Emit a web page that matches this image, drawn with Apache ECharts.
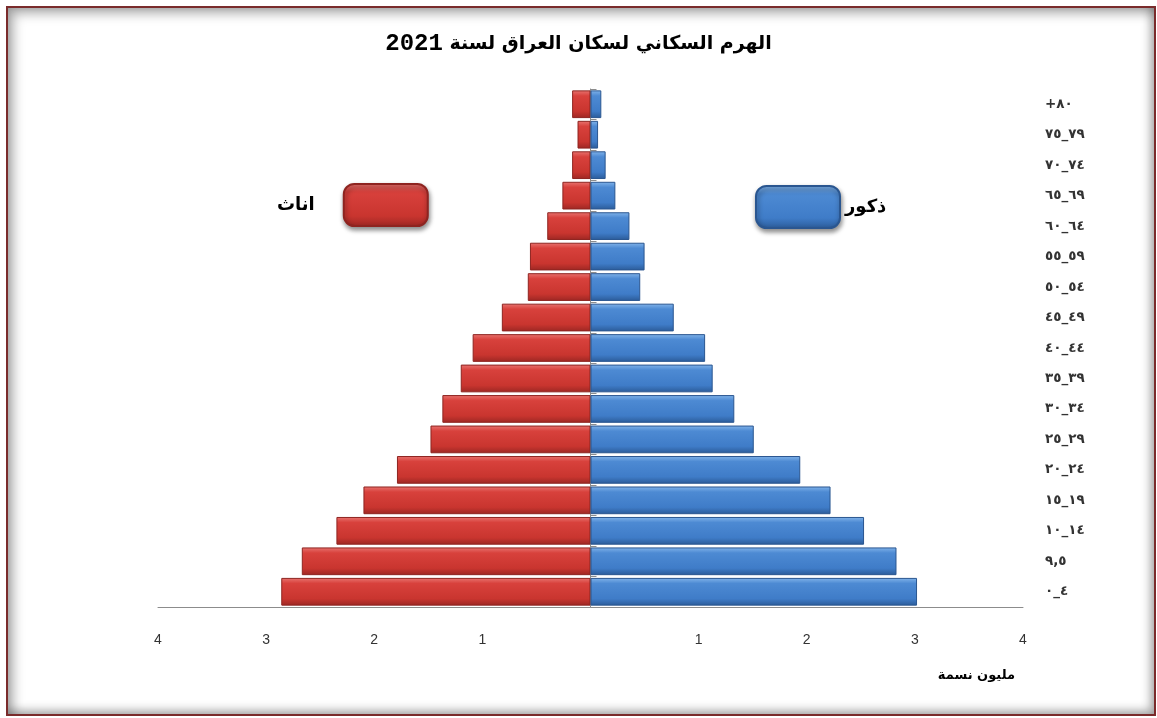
<!DOCTYPE html>
<html>
<head>
<meta charset="utf-8">
<script src="https://cdn.jsdelivr.net/npm/echarts@6/dist/echarts.min.js"></script>
<style>
  html, body { margin: 0; padding: 0; background: #ffffff; }
  #chart { position: absolute; left: 0; top: 0; width: 1157px; height: 718px; }
  #frame {
    position: absolute; left: 6px; top: 6px; width: 1146px; height: 706px;
    border: 2px solid #7a2b2b; pointer-events: none; z-index: 10;
    box-shadow: inset 5px 5px 12px rgba(0,0,0,0.35), inset -4px -4px 10px rgba(0,0,0,0.3);
  }
</style>
</head>
<body>
<div id="chart"></div>
<div id="frame"></div>
<script>
// ---- data (millions), bottom to top ----
const ageGroups = ["٠_٤", "٩,٥", "١٠_١٤", "١٥_١٩", "٢٠_٢٤", "٢٥_٢٩", "٣٠_٣٤", "٣٥_٣٩", "٤٠_٤٤", "٤٥_٤٩", "٥٠_٥٤", "٥٥_٥٩", "٦٠_٦٤", "٦٥_٦٩", "٧٠_٧٤", "٧٥_٧٩", "+٨٠"];
const males   = [3.02, 2.83, 2.53, 2.22, 1.94, 1.51, 1.33, 1.13, 1.06, 0.77, 0.46, 0.50, 0.36, 0.23, 0.14, 0.07, 0.10];
const females = [2.86, 2.67, 2.35, 2.10, 1.79, 1.48, 1.37, 1.20, 1.09, 0.82, 0.58, 0.56, 0.40, 0.26, 0.17, 0.12, 0.17];
const xTicks = [-4, -3, -2, -1, 0, 1, 2, 3, 4];
const titleWords = "الهرم السكاني لسكان العراق لسنة";
const titleYear = "2021";
const unitText = "مليون نسمة";
const maleName = "ذكور";
const femaleName = "اناث";

// age labels: keep digit groups in the visual order of the reference
const ltrLabel = s => s.match(/[٠-٩]+|[^٠-٩]+/g).map(p => "{n|" + p + "}").join("");

const arabicFont = "'DejaVu Sans', 'Liberation Sans', sans-serif";

const redGrad = new echarts.graphic.LinearGradient(0, 0, 0, 1, [
  { offset: 0, color: '#e87470' },
  { offset: 0.2, color: '#d8413c' },
  { offset: 0.75, color: '#c9352f' },
  { offset: 1, color: '#9c2723' }
]);
const blueGrad = new echarts.graphic.LinearGradient(0, 0, 0, 1, [
  { offset: 0, color: '#82b4ea' },
  { offset: 0.2, color: '#4d8ad3' },
  { offset: 0.75, color: '#3f7cc8' },
  { offset: 1, color: '#2b5b98' }
]);

const chart = echarts.init(document.getElementById('chart'), null, { renderer: 'canvas' });

chart.setOption({
  backgroundColor: 'transparent',
  animation: false,
  title: {
    // Arabic sentence reads right-to-left, so the year sits at the left end
    text: "{y|" + titleYear + "}{w| " + titleWords + "}",
    left: 'center',
    top: 27,
    textStyle: {
      fontFamily: arabicFont, fontWeight: 'bold', fontSize: 19, color: '#000',
      rich: {
        y: { fontFamily: "'Liberation Mono', 'DejaVu Sans Mono', monospace", fontWeight: 'bold', fontSize: 24, color: '#000' },
        w: { fontFamily: arabicFont, fontWeight: 'bold', fontSize: 19, color: '#000' }
      }
    }
  },
  legend: [
    {
      data: [femaleName],
      align: 'right',
      left: 272,
      top: 178,
      itemWidth: 84,
      itemHeight: 42,
      icon: 'roundRect',
      itemStyle: { color: redGrad, shadowBlur: 5, shadowColor: 'rgba(0,0,0,0.45)', shadowOffsetY: 3, shadowOffsetX: 1 },
      textStyle: { fontFamily: arabicFont, fontWeight: 'bold', fontSize: 18, color: '#000', padding: [0, 24, 0, 0] }
    },
    {
      data: [maleName],
      align: 'left',
      left: 750,
      top: 180,
      itemWidth: 84,
      itemHeight: 42,
      icon: 'roundRect',
      itemStyle: { color: blueGrad, shadowBlur: 5, shadowColor: 'rgba(0,0,0,0.45)', shadowOffsetY: 3, shadowOffsetX: 1 },
      textStyle: { fontFamily: arabicFont, fontWeight: 'bold', fontSize: 18, color: '#000' }
    }
  ],
  grid: { left: 158, right: 134, top: 89, bottom: 111, containLabel: false },
  xAxis: {
    type: 'value',
    min: xTicks[0],
    max: xTicks[xTicks.length - 1],
    interval: 1,
    axisLine: { show: true, lineStyle: { color: '#8c8c8c', width: 1 } },
    axisTick: { show: false },
    splitLine: { show: false },
    axisLabel: {
      margin: 26,
      fontFamily: "'Liberation Sans Narrow', 'Liberation Sans', sans-serif",
      fontSize: 14,
      color: '#333',
      formatter: v => (v === 0 ? '' : String(Math.abs(v)))
    }
  },
  yAxis: {
    type: 'category',
    position: 'right',
    data: ageGroups,
    axisLine: { show: true, lineStyle: { color: '#8c8c8c', width: 1 } },
    axisTick: { show: true, length: 6, lineStyle: { color: '#8c8c8c' } },
    axisLabel: {
      margin: 22,
      align: 'left',
      fontFamily: arabicFont,
      fontWeight: 'bold',
      fontSize: 13,
      color: '#333',
      formatter: v => ltrLabel(v),
      rich: { n: { fontFamily: arabicFont, fontWeight: 'bold', fontSize: 13.5, color: '#333' } }
    }
  },
  series: [
    {
      name: femaleName,
      type: 'bar',
      stack: 'pop',
      barCategoryGap: '9%',
      data: females.map(v => -v),
      itemStyle: { color: redGrad, borderColor: '#8e2420', borderWidth: 1 }
    },
    {
      name: maleName,
      type: 'bar',
      stack: 'pop',
      barCategoryGap: '9%',
      data: males,
      itemStyle: { color: blueGrad, borderColor: '#2a5690', borderWidth: 1 }
    }
  ],
  graphic: [
    {
      type: 'text',
      right: 142,
      top: 669,
      style: {
        text: unitText,
        fontFamily: arabicFont,
        fontWeight: 'bold',
        fontSize: 13,
        fill: '#000'
      }
    }
  ]
});
</script>
</body>
</html>
